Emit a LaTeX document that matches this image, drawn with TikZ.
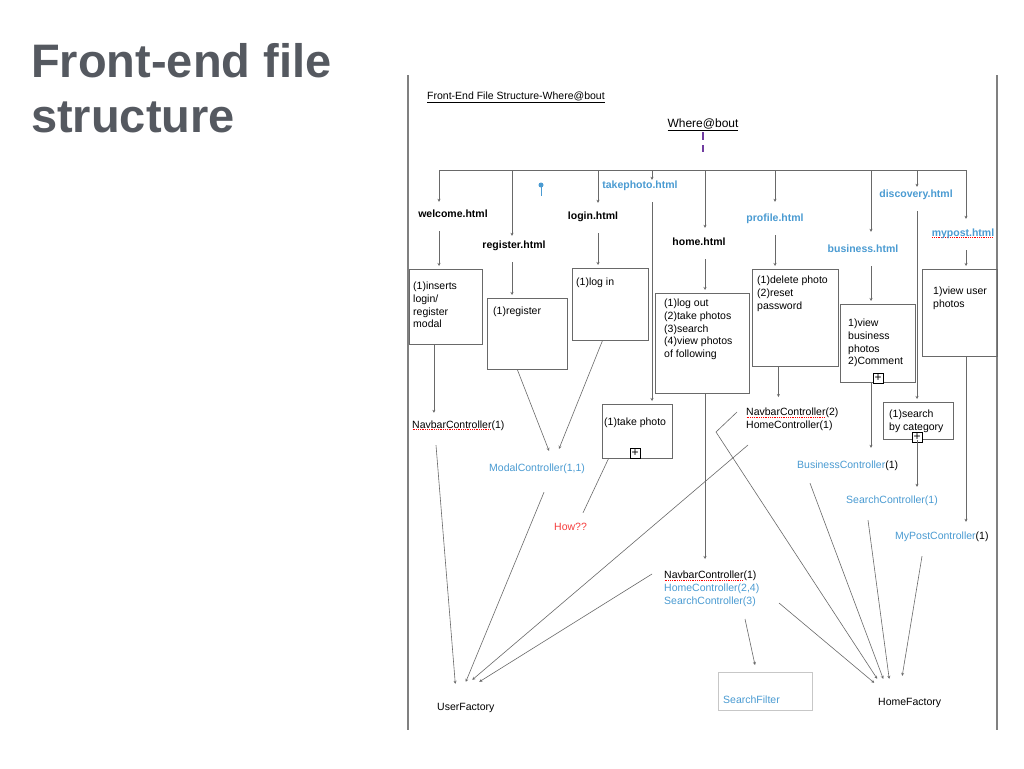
\documentclass[tikz,border=0pt]{standalone}
\usepackage{fontspec}
\setmainfont{Liberation Sans}
\usetikzlibrary{arrows.meta}

\definecolor{linkblue}{RGB}{74,155,210}
\definecolor{slidegrey}{RGB}{85,89,96}
\definecolor{wiregrey}{RGB}{105,105,105}
\definecolor{framegrey}{RGB}{128,128,128}
\definecolor{dashpurple}{RGB}{112,60,160}
\definecolor{howred}{RGB}{245,60,60}

\newlength\errwd
\newcommand\spellerr[1]{\settowidth\errwd{#1}\rlap{\raisebox{-2pt}{\color{red}\leaders\hbox to 1.8pt{\hss\rule{0.9pt}{0.8pt}\hss}\hskip\errwd}}#1}

\tikzset{
  wire/.style={draw=wiregrey, line width=0.6pt},
  arr/.style={wire, -{Stealth[length=3pt,width=3pt]}},
  filebox/.style={draw=wiregrey, line width=0.8pt, inner sep=0pt, anchor=north west},
  page/.style={draw=framegrey, line width=1.8pt},
  txt/.style={inner sep=0pt, font=\fontsize{10.5}{12.6}\selectfont, align=left, anchor=north west},
  ctl/.style={inner sep=0pt, font=\fontsize{10.5}{12.6}\selectfont, anchor=base west, text height=8pt, text depth=0pt},
  html/.style={inner sep=0pt, font=\bfseries\fontsize{10.5}{12}\selectfont, anchor=base, text height=8pt, text depth=0pt},
  plus/.style={draw=black, line width=0.9pt, fill=white, inner sep=0pt, minimum size=10pt, font=\fontsize{12}{12}\selectfont, text height=7pt, text depth=0pt}
}

\begin{document}
\begin{tikzpicture}[x=1pt, y=-1pt]
	\useasboundingbox (0,0) rectangle (1024,768);
	\fill[white] (0,0) rectangle (1024,768);
	\node[anchor=north west, inner sep=0pt, align=left, text=slidegrey, font=\bfseries\fontsize{47}{55}\selectfont] (slidetitle) at (31,43) {Front-end file\\structure};
	\draw[page] (408,75) -- (408,730);
	\draw[page] (997,75) -- (997,730);
	\node[ctl] (doctitle) at (427,99) {\underline{Front-End File Structure-Where@bout}};
	\node[ctl, anchor=base, font=\fontsize{12}{14}\selectfont] (root) at (703,127) {\underline{Where@bout}};
	\draw[dashpurple, line width=1.3pt, dash pattern=on 8pt off 5pt] ([yshift=-5pt]root.south) -- ([yshift=-25pt]root.south);
	\foreach \n/\x in {welcome/439, register/512, login/598, takephoto/652, home/705, profile/775, business/871, discovery/917, mypost/966}
		\coordinate (b-\n) at (\x,170);
	\draw[wire] (b-welcome) -- (b-mypost);
	\fill[linkblue] (541,185) circle [radius=2.5pt];
	\draw[linkblue, line width=1pt] (541,185) -- (541,196);
	\node[html] (welcome) at (453,217) {welcome.html};
	\node[html] (register) at (514,248) {register.html};
	\node[html] (login) at (593,219) {login.html};
	\node[html, text=linkblue] (takephoto) at (640,188) {takephoto.html};
	\node[html] (home) at (699,245) {home.html};
	\node[html, text=linkblue] (profile) at (775,221) {profile.html};
	\node[html, text=linkblue] (business) at (863,252) {business.html};
	\node[html, text=linkblue] (discovery) at (916,197) {discovery.html};
	\node[html, text=linkblue] (mypost) at (963,236) {\spellerr{mypost.html}};
	\foreach \n/\s in {welcome/7pt, register/4pt, login/8pt, takephoto/0pt, home/9pt, profile/11pt, business/12pt, discovery/2pt, mypost/9pt}
		\draw[arr, shorten >=\s] (b-\n) -- (b-\n |- \n.north);
	\node[filebox, minimum width=73pt, minimum height=75pt] (welcomebox) at (409,269) {};
	\node[filebox, minimum width=80pt, minimum height=71pt] (registerbox) at (487,298) {};
	\node[filebox, minimum width=76pt, minimum height=72pt] (loginbox) at (572,268) {};
	\node[filebox, minimum width=94pt, minimum height=100pt] (homebox) at (655,293) {};
	\node[filebox, minimum width=70pt, minimum height=54pt] (takephotobox) at (602,404) {};
	\node[filebox, minimum width=86pt, minimum height=97pt] (profilebox) at (752,269) {};
	\node[filebox, minimum width=75pt, minimum height=78pt] (businessbox) at (840,304) {};
	\node[filebox, minimum width=75pt, minimum height=87pt] (mypostbox) at (922,269) {};
	\node[filebox, minimum width=70pt, minimum height=37pt] (searchbox) at (883,402) {};
	\foreach \n/\m in {welcome/welcomebox, register/registerbox, login/loginbox, takephoto/takephotobox, home/homebox, profile/profilebox, business/businessbox, discovery/searchbox, mypost/mypostbox}
		\draw[arr, shorten <=14pt, shorten >=3pt] (b-\n |- \n.south) -- (b-\n |- \m.north);
	\node[txt] (welcometxt) at (413,282) {(1)inserts\\login/\\register\\modal};
	\node[txt] (registertxt) at (493,307) {(1)register};
	\node[txt] (logintxt) at (576,278) {(1)log in};
	\node[txt] (hometxt) at (664,299) {(1)log out\\(2)take photos\\(3)search\\(4)view photos\\of following};
	\node[txt] (takephototxt) at (604,418) {(1)take photo};
	\node[txt] (profiletxt) at (757,276) {(1)delete photo\\(2)reset\\password};
	\node[txt] (businesstxt) at (848,319) {1)view\\business\\photos\\2)Comment};
	\node[txt] (myposttxt) at (933,287) {1)view user\\photos};
	\node[txt, font=\fontsize{10.5}{13}\selectfont] (searchtxt) at (889,410) {(1)search\\by category};
	\node[plus] (takephotoplus) at (635,453) {+};
	\node[plus] (businessplus) at (878,378) {+};
	\node[plus] (searchplus) at (917,437) {+};
	\node[ctl] (navA) at (412,428) {\spellerr{NavbarController}(1)};
	\node[ctl, text=linkblue] (modalC) at (489,471) {ModalController(1,1)};
	\node[ctl, text=howred] (how) at (554,530) {How??};
	\node[txt] (navB) at (746,408) {\spellerr{NavbarController}(2)\\HomeController(1)};
	\node[ctl] (bizC) at (797,468) {\textcolor{linkblue}{BusinessController}(1)};
	\node[ctl, text=linkblue] (srchC) at (846,503) {SearchController(1)};
	\node[ctl] (mypostC) at (895,539) {\textcolor{linkblue}{MyPostController}(1)};
	\node[txt, font=\fontsize{10.5}{13}\selectfont] (homeC) at (664,571) {\spellerr{NavbarController}(1)\\\textcolor{linkblue}{HomeController(2,4)}\\\textcolor{linkblue}{SearchController(3)}};
	\node[ctl] (userF) at (437,710) {UserFactory};
	\node[ctl] (homeF) at (878,705) {HomeFactory};
	\node[filebox, draw=black!22, minimum width=94pt, minimum height=38pt] (filterbox) at (718,672) {};
	\node[ctl, text=linkblue] (filter) at (723,703) {SearchFilter};
	\draw[arr, shorten >=7pt] ([xshift=-12pt]welcomebox.south) -- ([xshift=-12pt]welcomebox.south |- navA.north);
	\draw[arr, shorten >=11pt] ([xshift=-17pt]profilebox.south) -- ([xshift=-17pt]profilebox.south |- navB.north);
	\draw[arr, shorten >=12pt] (b-business |- businessbox.south) -- (b-business |- bizC.north);
	\draw[arr, shorten >=8pt] (b-discovery |- searchbox.south) -- (b-discovery |- srchC.north);
	\draw[arr, shorten >=9pt] (b-mypost |- mypostbox.south) -- (b-mypost |- mypostC.north);
	\draw[arr, shorten >=12pt] (b-home |- homebox.south) -- (b-home |- homeC.north);
	\draw[arr] ([xshift=-10pt]registerbox.south) -- ([xshift=60pt,yshift=12pt]modalC.north west);
	\draw[arr] ([xshift=-8pt]loginbox.south) -- ([xshift=70pt,yshift=14pt]modalC.north west);
	\draw[wire] ([xshift=-29pt]takephotobox.south) -- ([xshift=29pt,yshift=9pt]how.north west);
	\draw[arr] ([xshift=24pt,yshift=-17pt]navA.south west) -- ([xshift=-10.5pt,yshift=18pt]userF.north);
	\draw[arr] ([xshift=55pt,yshift=-21pt]modalC.south west) -- ([yshift=20pt]userF.north);
	\draw[arr] ([xshift=2pt,yshift=-37pt]navB.north west) -- ([xshift=6.5pt,yshift=22pt]userF.north);
	\draw[arr] ([xshift=-12pt,yshift=-3pt]homeC.north west) -- ([xshift=13.5pt,yshift=20pt]userF.north);
	\draw[arr] ([xshift=115pt,yshift=-32pt]homeC.north west) -- ([xshift=-35.5pt,yshift=14pt]homeF.north);
	\draw[arr] ([xshift=-9pt,yshift=-4pt]navB.north west) -- ++(-21,20) -- ([xshift=-32.5pt,yshift=18pt]homeF.north);
	\draw[arr] ([xshift=13pt,yshift=-15pt]bizC.south west) -- ([xshift=-26.5pt,yshift=18pt]homeF.north);
	\draw[arr] ([xshift=22pt,yshift=-17pt]srchC.south west) -- ([xshift=-20.5pt,yshift=18pt]homeF.north);
	\draw[arr] ([xshift=27pt,yshift=-17pt]mypostC.south west) -- ([xshift=-7.5pt,yshift=21pt]homeF.north);
	\draw[arr] ([xshift=81pt,yshift=-48pt]homeC.north west) -- ([xshift=37pt,yshift=7pt]filterbox.north west);
\end{tikzpicture}
\end{document}
